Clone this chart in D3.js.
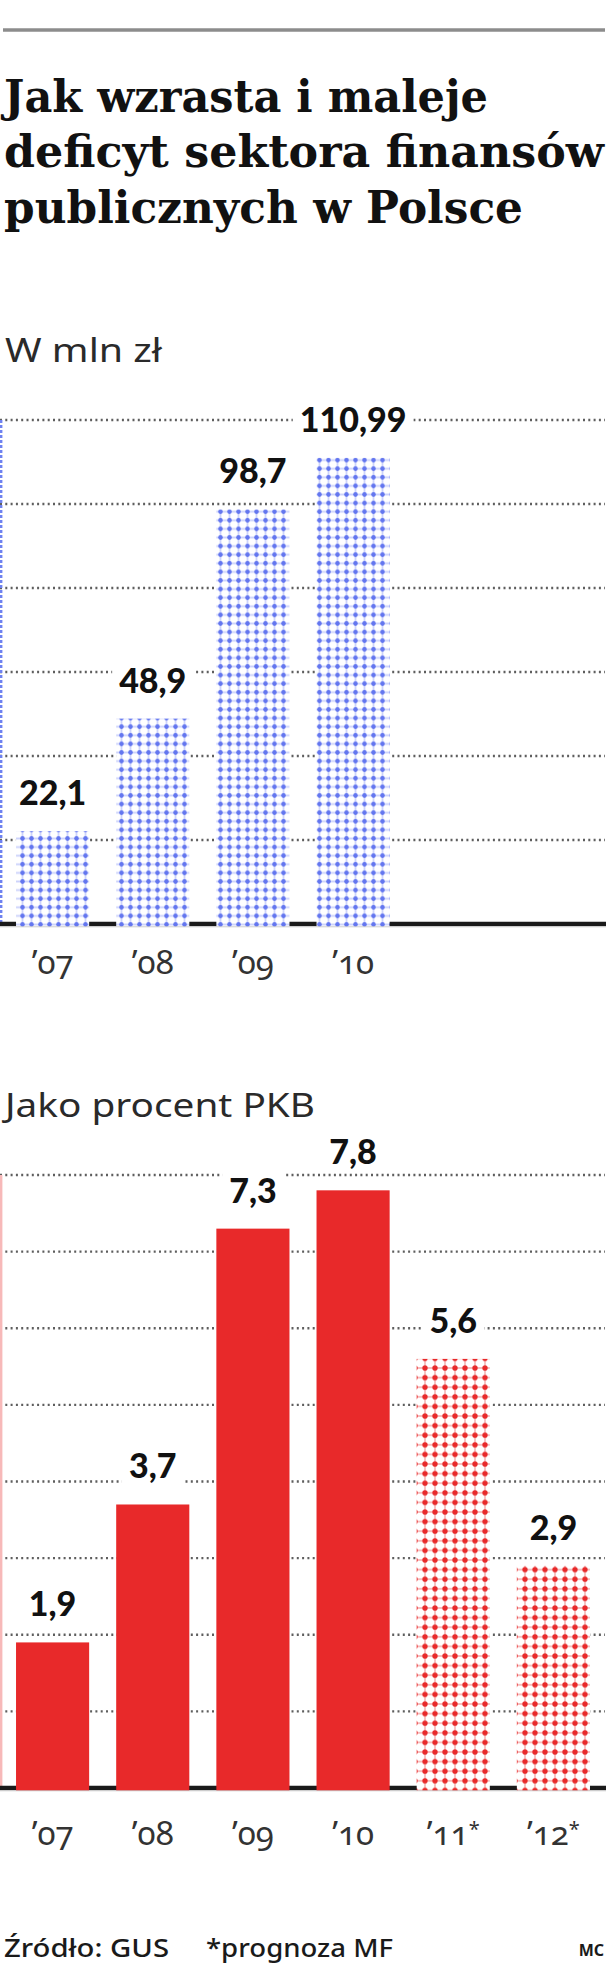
<!DOCTYPE html>
<html>
<head>
<meta charset="utf-8">
<script src="https://cdn.jsdelivr.net/npm/d3@7"></script>
<style>
  html, body { margin: 0; padding: 0; background: #fff; }
  svg { display: block; }
</style>
</head>
<body>
<svg id="chart" width="615" height="1968"></svg>
<script>
// ---------- DATA ----------
const titleLines = ["Jak wzrasta i maleje", "deficyt sektora finansów", "publicznych w Polsce"];
const years = ["’07", "’08", "’09", "’10", "’11*", "’12*"];
const mlnYears = ["’07", "’08", "’09", "’10"];
const deficitMln = [22.1, 48.9, 98.7, 110.99];
const mlnTicks = [20, 40, 60, 80, 100, 120];
const deficitPct = [1.9, 3.7, 7.3, 7.8, 5.6, 2.9];
const pctForecast = [false, false, false, false, true, true];
const pctTicks = [1, 2, 3, 4, 5, 6, 7, 8];
const subtitleMln = "W mln zł";
const subtitlePct = "Jako procent PKB";
const sourceText = "Źródło: GUS";
const noteText = "*prognoza MF";
const authorText = "MC";

// ---------- SETUP ----------
const svg = d3.select("#chart");
const fmt = v => String(v).replace(".", ",");

const defs = svg.append("defs");
const pb = defs.append("pattern").attr("id", "blueDots")
  .attr("patternUnits", "userSpaceOnUse").attr("width", 9).attr("height", 8.6);
pb.append("rect").attr("width", 9).attr("height", 8.6).attr("fill", "#fff");
pb.append("path").attr("d", "M0 4.3H9M4.5 0V8.6").attr("stroke", "#cdd3fb").attr("stroke-width", 1.8);
pb.append("circle").attr("cx", 4.5).attr("cy", 4.3).attr("r", 2.3).attr("fill", "#6376ef");

const pr = defs.append("pattern").attr("id", "redDots")
  .attr("patternUnits", "userSpaceOnUse").attr("width", 10).attr("height", 9.6);
pr.append("rect").attr("width", 10).attr("height", 9.6).attr("fill", "#fff");
pr.append("path").attr("d", "M0 4.8H10M5 0V9.6").attr("stroke", "#f6bdbd").attr("stroke-width", 1.8);
pr.append("circle").attr("cx", 5).attr("cy", 4.8).attr("r", 2.7).attr("fill", "#e8292a");

// top rule
svg.append("line").attr("x1", 3).attr("x2", 605).attr("y1", 30).attr("y2", 30)
  .attr("stroke", "#8c8c8c").attr("stroke-width", 3.5);

// title
const titleBase = [112, 167, 223];
const titleWidths = [484, 600, 519];
svg.append("g").selectAll("text").data(titleLines).join("text")
  .attr("x", 4).attr("y", (d, i) => titleBase[i])
  .attr("font-family", "DejaVu Serif").attr("font-weight", "bold").attr("font-size", 45)
  .attr("fill", "#111")
  .attr("textLength", (d, i) => titleWidths[i]).attr("lengthAdjust", "spacingAndGlyphs")
  .text(d => d);

// x scale shared
const x = d3.scaleBand().domain(years).range([0, 606]).paddingInner(0.27).paddingOuter(0.16);

function drawChart(opts) {
  const g = svg.append("g");
  const y = d3.scaleLinear().domain(opts.domain).range([opts.y0, opts.yTop]);

  // subtitle
  g.append("text").attr("x", 5).attr("y", opts.subY)
    .attr("font-family", "Noto Sans").attr("font-size", 32).attr("fill", "#2a2a2a")
    .attr("textLength", opts.subW).attr("lengthAdjust", "spacingAndGlyphs")
    .text(opts.subtitle);

  // gridlines
  g.append("g").selectAll("line").data(opts.ticks).join("line")
    .attr("x1", 0).attr("x2", 605)
    .attr("y1", d => y(d)).attr("y2", d => y(d))
    .attr("stroke", "#5e5e5e").attr("stroke-width", 2.4).attr("stroke-dasharray", "2,3.3");

  // left vertical line
  g.append("line").attr("x1", 1.2).attr("x2", 1.2)
    .attr("y1", y(opts.domain[1])).attr("y2", y(0))
    .attr("stroke", opts.leftColor).attr("stroke-width", 2.4)
    .attr("stroke-dasharray", opts.leftDash);

  // baseline
  g.append("line").attr("x1", 0).attr("x2", 606).attr("y1", y(0)).attr("y2", y(0))
    .attr("stroke", "#1a1a1a").attr("stroke-width", 4.5);
  g.append("line").attr("x1", 0).attr("x2", 606).attr("y1", y(0) + 2.8).attr("y2", y(0) + 2.8)
    .attr("stroke", "#cfcfcf").attr("stroke-width", 1);

  // bars
  g.append("g").selectAll("rect").data(opts.values).join("rect")
    .attr("x", (d, i) => x(opts.cats[i]))
    .attr("width", x.bandwidth())
    .attr("y", d => y(d))
    .attr("height", d => y(0) - y(d) + 2.3)
    .attr("fill", (d, i) => opts.fill(i));

  // value labels with white knock-out
  const lg = g.append("g");
  opts.values.forEach((v, i) => {
    const t = lg.append("text")
      .attr("x", x(opts.cats[i]) + x.bandwidth() / 2)
      .attr("y", y(v) - 26)
      .attr("text-anchor", "middle")
      .attr("font-family", "Lato").attr("font-weight", 900).attr("font-size", 34)
      .attr("fill", "#111")
      .text(fmt(v));
    const bb = t.node().getBBox();
    lg.insert("rect", () => t.node())
      .attr("x", bb.x - 7).attr("y", bb.y + 3).attr("width", bb.width + 14).attr("height", bb.height - 4)
      .attr("fill", "#fff");
  });

  // x axis labels
  const ax = g.append("g").attr("transform", `translate(0,${y(0)})`)
    .call(d3.axisBottom(x).tickValues(opts.cats).tickSize(0).tickPadding(0));
  ax.select(".domain").remove();
  ax.selectAll("text")
    .attr("y", opts.tickDy).attr("dy", 0)
    .attr("font-family", "Noto Sans").attr("font-size", 33).attr("fill", "#333")
    .style("font-feature-settings", "'onum' 1")
    .each(function(d) {
      if (d.endsWith("*")) {
        const el = d3.select(this).text(d.slice(0, -1));
        el.append("tspan").attr("font-size", 20).attr("dy", -9).text("*");
      }
    });
}

drawChart({
  subtitle: subtitleMln, subY: 362, subW: 157,
  domain: [0, 120], y0: 924, yTop: 420,
  ticks: mlnTicks, values: deficitMln, cats: mlnYears,
  fill: () => "url(#blueDots)",
  leftColor: "#6f82f0", leftDash: "3,2",
  tickDy: 50
});

drawChart({
  subtitle: subtitlePct, subY: 1117, subW: 310,
  domain: [0, 8], y0: 1788, yTop: 1175,
  ticks: pctTicks, values: deficitPct, cats: years,
  fill: i => pctForecast[i] ? "url(#redDots)" : "#e8292a",
  leftColor: "#f7b9b9", leftDash: null,
  tickDy: 57
});

// footer
const foot = svg.append("g").attr("font-family", "Noto Sans").attr("fill", "#1a1a1a");
foot.append("text").attr("x", 4).attr("y", 1957).attr("font-size", 25).attr("font-weight", 500)
  .attr("textLength", 165).attr("lengthAdjust", "spacingAndGlyphs").text(sourceText);
foot.append("text").attr("x", 206).attr("y", 1957).attr("font-size", 25).attr("font-weight", 500)
  .attr("textLength", 187).attr("lengthAdjust", "spacingAndGlyphs").text(noteText);
foot.append("text").attr("x", 604).attr("y", 1956).attr("text-anchor", "end")
  .attr("font-size", 16).attr("font-weight", 700).text(authorText);
</script>
</body>
</html>
